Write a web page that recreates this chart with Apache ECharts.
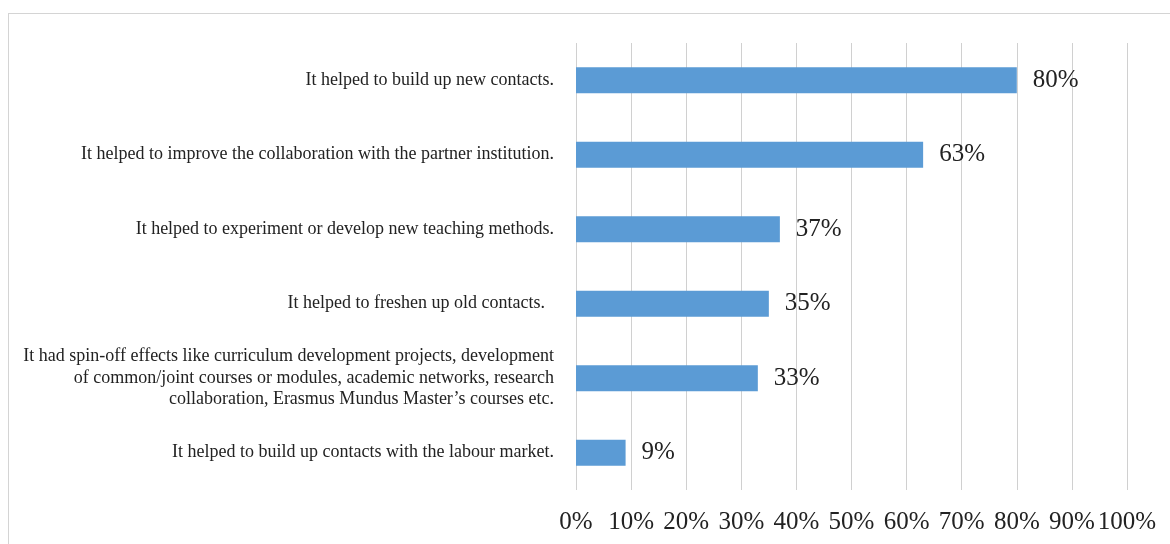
<!DOCTYPE html>
<html><head><meta charset="utf-8">
<script src="https://cdn.jsdelivr.net/npm/echarts@6/dist/echarts.min.js"></script>
<style>
html,body{margin:0;padding:0;background:#fff;overflow:hidden;}
#frame{position:absolute;left:8px;top:13px;width:1200px;height:600px;border:1px solid #d4d4d4;}
#chart{position:absolute;left:0;top:0;width:1170px;height:544px;}
</style></head>
<body>
<div id="frame"></div>
<div id="chart"></div>
<script>
const categories = [
  "It helped to build up new contacts.",
  "It helped to improve the collaboration with the partner institution.",
  "It helped to experiment or develop new teaching methods.",
  "It helped to freshen up old contacts.  ",
  "It had spin-off effects like curriculum development projects, development\nof common/joint courses or modules, academic networks, research\ncollaboration, Erasmus Mundus Master\u2019s courses etc.",
  "It helped to build up contacts with the labour market."
];
const values = [80, 63, 37, 35, 33, 9];
const xTicks = [0, 10, 20, 30, 40, 50, 60, 70, 80, 90, 100];

const chart = echarts.init(document.getElementById('chart'));
chart.setOption({
  animation: false,
  grid: {left: 576, right: 43, top: 43, bottom: 54, containLabel: false},
  xAxis: {
    type: 'value', min: xTicks[0], max: xTicks[xTicks.length - 1], interval: 10,
    axisLine: {show: false}, axisTick: {show: false},
    splitLine: {show: true, lineStyle: {color: '#d0d0d0', width: 1}},
    axisLabel: {formatter: v => v + '%', color: '#222', fontFamily: 'Liberation Serif', fontSize: 25, margin: 20}
  },
  yAxis: {
    type: 'category', data: categories, inverse: true,
    axisLine: {show: false}, axisTick: {show: false},
    axisLabel: {color: '#222', fontFamily: 'Liberation Serif', fontSize: 18, align: 'right', margin: 22, lineHeight: 21.5}
  },
  series: [{
    type: 'bar', data: values, barCategoryGap: '65%',
    itemStyle: {color: '#5B9BD5'},
    label: {show: true, position: 'right', distance: 16, formatter: p => p.value + '%',
      color: '#222', fontFamily: 'Liberation Serif', fontSize: 25}
  }]
});
</script>
</body></html>
